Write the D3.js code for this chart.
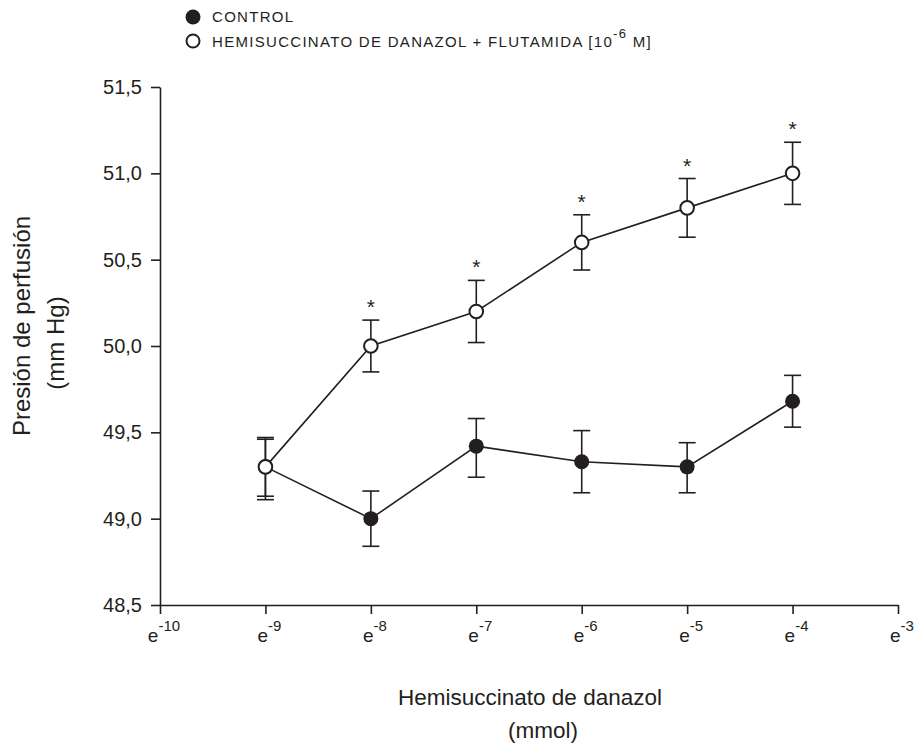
<!DOCTYPE html>
<html>
<head>
<meta charset="utf-8">
<script src="https://cdn.jsdelivr.net/npm/d3@7"></script>
<style>
  body { margin: 0; background: #fff; }
  svg { font-family: "Liberation Sans", Arial, sans-serif; }
  text { fill: #231f20; }
</style>
</head>
<body>
<svg id="chart"></svg>
<script>
// dose exponents (x = e^exp)
let exponents = [-9, -8, -7, -6, -5, -4]
let xTicks = [-10, -9, -8, -7, -6, -5, -4, -3]
let yTicks = [48.5, 49.0, 49.5, 50.0, 50.5, 51.0, 51.5]

// CONTROL
let controlMean  = [49.30, 49.00, 49.42, 49.33, 49.30, 49.68]
let controlUpper = [49.46, 49.16, 49.58, 49.51, 49.44, 49.83]
let controlLower = [49.11, 48.84, 49.24, 49.15, 49.15, 49.53]

// HEMISUCCINATO DE DANAZOL + FLUTAMIDA
let treatMean  = [49.30, 50.00, 50.20, 50.60, 50.80, 51.00]
let treatUpper = [49.47, 50.15, 50.38, 50.76, 50.97, 51.18]
let treatLower = [49.13, 49.85, 50.02, 50.44, 50.63, 50.82]
let significant = [false, true, true, true, true, true]

let width = 922
let height = 752
let ink = '#231f20'

let svg = d3.select('#chart').attr('width', width).attr('height', height)

let xScale = d3.scaleLinear().domain([-10, -3]).range([160, 898])
let yScale = d3.scaleLinear().domain([48.5, 51.5]).range([605, 87])

let rows = (mean, up, lo) => exponents.map((e, i) => ({x: e, y: mean[i], up: up[i], lo: lo[i], sig: significant[i]}))
let control = rows(controlMean, controlUpper, controlLower)
let treat = rows(treatMean, treatUpper, treatLower)

// axes
let yAxis = d3.axisLeft(yScale)
    .tickValues(yTicks)
    .tickSize(9)
    .tickSizeOuter(0)
    .tickPadding(9)
    .tickFormat(d => d3.format('.1f')(d).replace('.', ','))

let xAxis = d3.axisBottom(xScale)
    .tickValues(xTicks)
    .tickSize(9)
    .tickSizeOuter(0)
    .tickFormat('')

let gy = svg.append('g')
    .attr('transform', 'translate(' + xScale(-10) + ',0)')
    .call(yAxis)
gy.selectAll('text').style('font-size', '20px').attr('fill', ink)

let gx = svg.append('g')
    .attr('transform', 'translate(0,' + yScale(48.5) + ')')
    .call(xAxis)

svg.selectAll('.domain, .tick line').attr('stroke', ink).attr('stroke-width', 1.6)

// x tick labels e^n
let xl = svg.append('g').selectAll('text')
    .data(xTicks)
    .enter()
    .append('text')
    .attr('x', d => xScale(d) + 4)
    .attr('y', yScale(48.5) + 37)
    .attr('text-anchor', 'middle')
    .style('font-size', '19px')
xl.append('tspan').text('e')
xl.append('tspan').attr('dy', -11).style('font-size', '15px').text(d => String(d))

// lines
let line = d3.line().x(d => xScale(d.x)).y(d => yScale(d.y))
let drawSeries = (data) => {
    svg.append('path')
        .datum(data)
        .attr('d', line)
        .attr('fill', 'none')
        .attr('stroke', ink)
        .attr('stroke-width', 1.6)
}
drawSeries(control)
drawSeries(treat)

let drawErrors = (data) => {
    let g = svg.append('g').attr('stroke', ink).attr('stroke-width', 1.6)
    g.selectAll('.stem').data(data).enter().append('line')
        .attr('x1', d => xScale(d.x)).attr('x2', d => xScale(d.x))
        .attr('y1', d => yScale(d.up)).attr('y2', d => yScale(d.lo))
    g.selectAll('.capU').data(data).enter().append('line')
        .attr('x1', d => xScale(d.x) - 8.5).attr('x2', d => xScale(d.x) + 8.5)
        .attr('y1', d => yScale(d.up)).attr('y2', d => yScale(d.up))
    g.selectAll('.capL').data(data).enter().append('line')
        .attr('x1', d => xScale(d.x) - 8.5).attr('x2', d => xScale(d.x) + 8.5)
        .attr('y1', d => yScale(d.lo)).attr('y2', d => yScale(d.lo))
}
drawErrors(control)
drawErrors(treat)

svg.append('g').selectAll('circle').data(control).enter().append('circle')
    .attr('cx', d => xScale(d.x)).attr('cy', d => yScale(d.y))
    .attr('r', 7.5).attr('fill', ink)

svg.append('g').selectAll('circle').data(treat).enter().append('circle')
    .attr('cx', d => xScale(d.x)).attr('cy', d => yScale(d.y))
    .attr('r', 6.8).attr('fill', '#fff').attr('stroke', ink).attr('stroke-width', 2)

// significance stars
svg.append('g').selectAll('text').data(treat.filter(d => d.sig)).enter().append('text')
    .attr('x', d => xScale(d.x))
    .attr('y', d => yScale(d.up) - 6)
    .attr('text-anchor', 'middle')
    .style('font-size', '21px')
    .text('*')

// axis titles
svg.append('text')
    .attr('transform', 'translate(30,326) rotate(-90)')
    .attr('text-anchor', 'middle')
    .style('font-size', '24px')
    .text('Presión de perfusión')
svg.append('text')
    .attr('transform', 'translate(64,343) rotate(-90)')
    .attr('text-anchor', 'middle')
    .style('font-size', '24px')
    .text('(mm Hg)')
svg.append('text')
    .attr('x', 530).attr('y', 705)
    .attr('text-anchor', 'middle')
    .style('font-size', '22.5px')
    .text('Hemisuccinato de danazol')
svg.append('text')
    .attr('x', 543).attr('y', 738)
    .attr('text-anchor', 'middle')
    .style('font-size', '22.5px')
    .text('(mmol)')

// legend
let legend = svg.append('g')
legend.append('circle').attr('cx', 193).attr('cy', 17).attr('r', 7.5).attr('fill', ink)
legend.append('circle').attr('cx', 193).attr('cy', 41).attr('r', 6.5)
    .attr('fill', '#fff').attr('stroke', ink).attr('stroke-width', 2)
let legendText = legend.append('g').style('font-size', '15px').style('letter-spacing', '1.3px')
legendText.append('text').attr('x', 212).attr('y', 22).text('CONTROL')
let l2 = legendText.append('text').attr('x', 212).attr('y', 47)
l2.append('tspan').text('HEMISUCCINATO DE DANAZOL + FLUTAMIDA [10')
l2.append('tspan').attr('dy', -9).style('font-size', '13px').text('-6')
l2.append('tspan').attr('dy', 9).text(' M]')
</script>
</body>
</html>
